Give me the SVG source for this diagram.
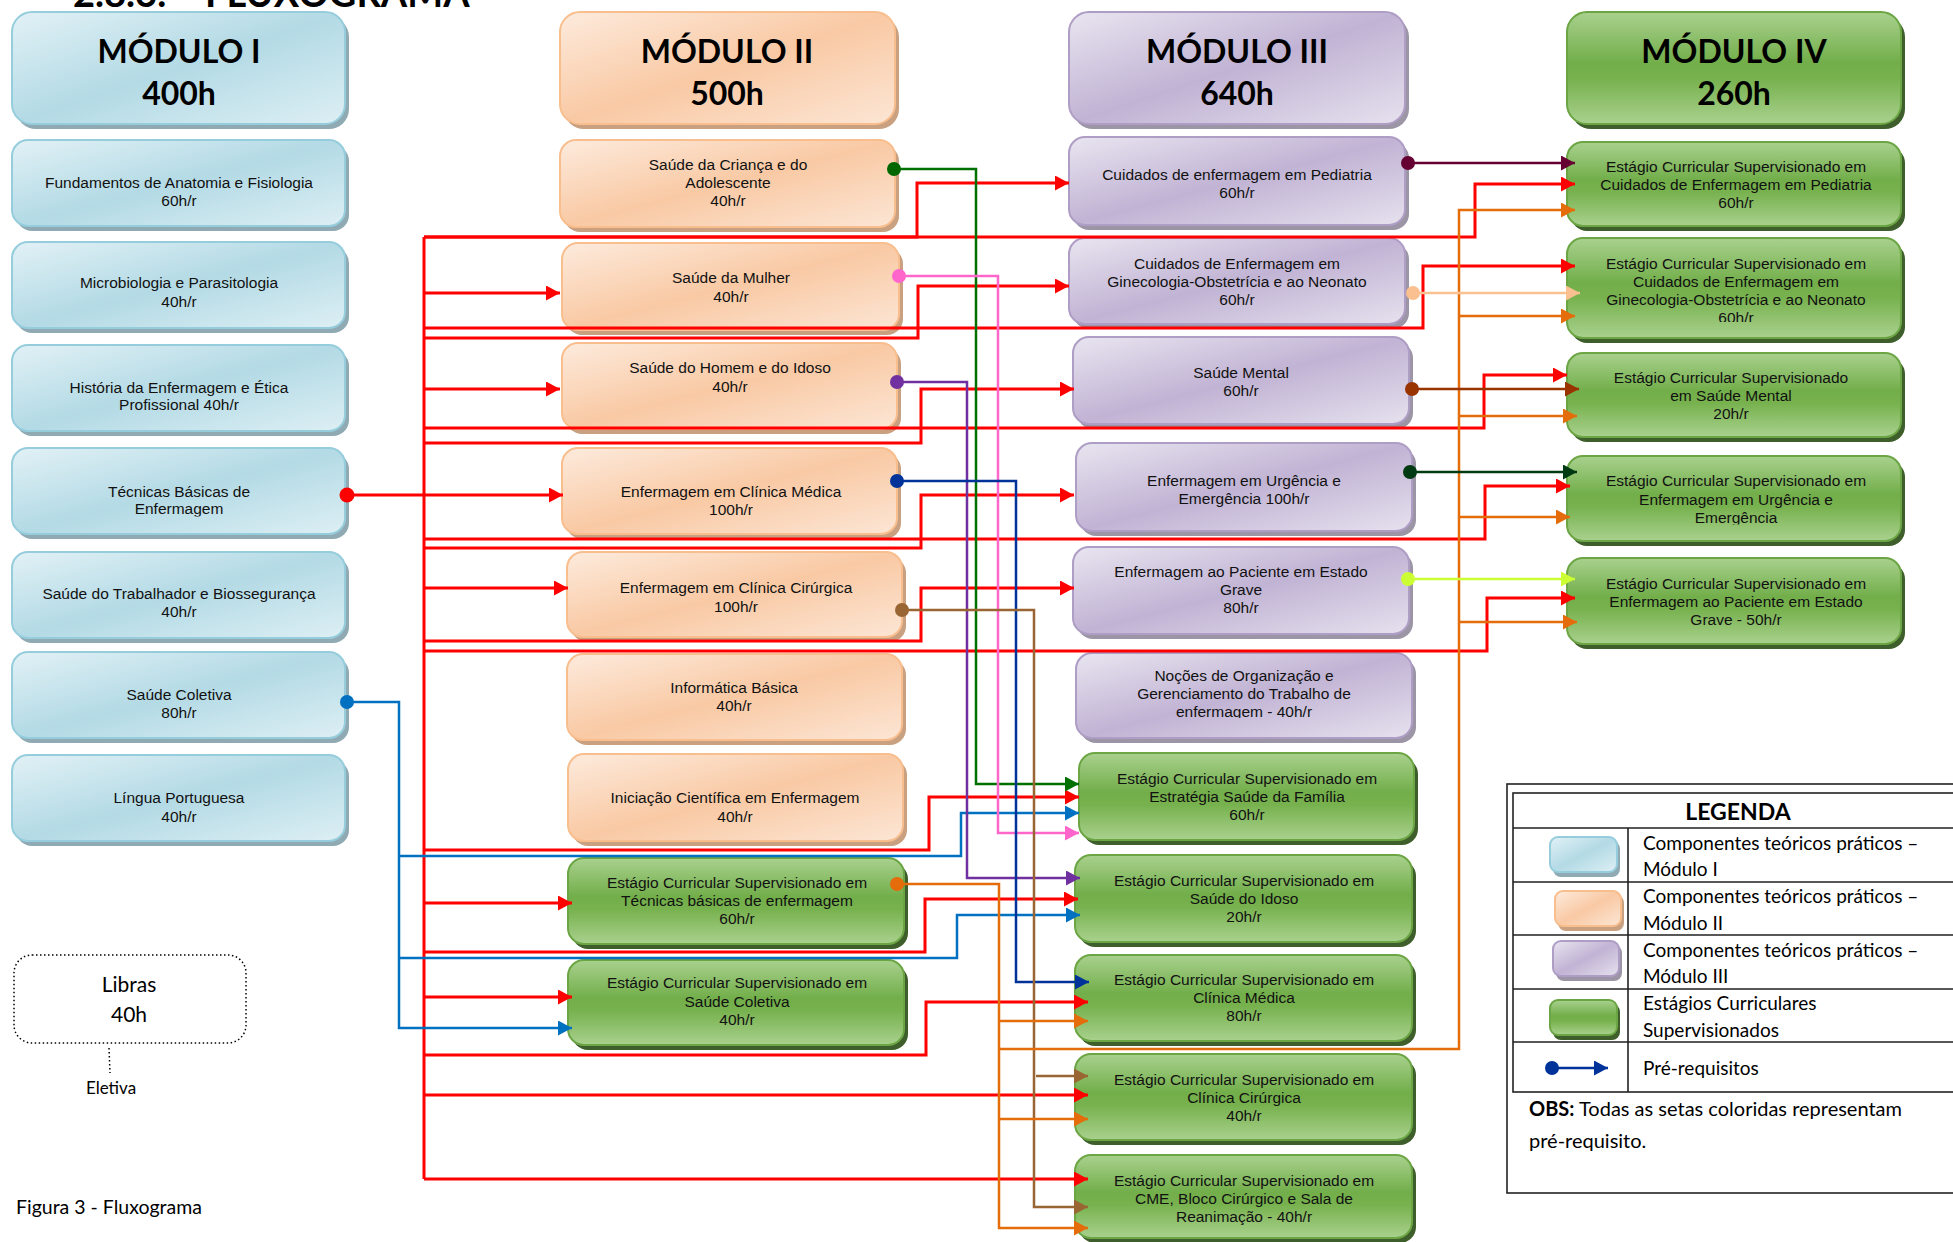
<svg xmlns="http://www.w3.org/2000/svg" width="1953" height="1242" viewBox="0 0 1953 1242">
<defs>
<style>
.s1{fill:#90AAB4}.b1{fill:url(#g1);stroke:#95CDDC;stroke-width:2}
.s2{fill:#C9A181}.b2{fill:url(#g2);stroke:#F8BE8E;stroke-width:2}
.s3{fill:#9C95A6}.b3{fill:url(#g3);stroke:#AE9DC4;stroke-width:2}
.s4{fill:#3E5F2B}.b4{fill:url(#g4);stroke:#6BA544;stroke-width:2}
.t{font-family:"Liberation Sans",Arial,sans-serif;font-size:15.5px;fill:#111;text-anchor:middle}
.h{font-family:Lato,"Open Sans",sans-serif;font-weight:bold;font-size:32px;fill:#000;text-anchor:middle}
.k{font-family:Lato,"Open Sans",sans-serif;fill:#000}
.c{fill:none;stroke-width:2.5}
.r{stroke:#FF0000;stroke-width:3;marker-end:url(#mr)}
.rl{fill:none;stroke:#FF0000;stroke-width:3}
.tb{fill:none;stroke:#222;stroke-width:1.6}
</style>
<linearGradient id="g1" x1="0" y1="0" x2="1" y2="1"><stop offset="0" stop-color="#E2F1F6"/><stop offset="0.5" stop-color="#B3DAE5"/><stop offset="1" stop-color="#DDEFF4"/></linearGradient>
<linearGradient id="g2" x1="0" y1="0" x2="1" y2="1"><stop offset="0" stop-color="#FDEBDD"/><stop offset="0.5" stop-color="#F9C9A4"/><stop offset="1" stop-color="#FCE6D5"/></linearGradient>
<linearGradient id="g3" x1="0" y1="0" x2="1" y2="1"><stop offset="0" stop-color="#E9E5F0"/><stop offset="0.5" stop-color="#C1B3D4"/><stop offset="1" stop-color="#E6E1EE"/></linearGradient>
<linearGradient id="g4" x1="0" y1="0" x2="0" y2="1"><stop offset="0" stop-color="#A9D18E"/><stop offset="0.45" stop-color="#72AE4A"/><stop offset="0.6" stop-color="#78B24F"/><stop offset="1" stop-color="#A9D18E"/></linearGradient>
<marker id="mr" viewBox="0 0 14 15" refX="14" refY="7.5" markerWidth="14" markerHeight="15" markerUnits="userSpaceOnUse" orient="auto"><path d="M0,0L14,7.5L0,15z" fill="#FF0000"/></marker>
<marker id="mb" viewBox="0 0 14 15" refX="14" refY="7.5" markerWidth="14" markerHeight="15" markerUnits="userSpaceOnUse" orient="auto"><path d="M0,0L14,7.5L0,15z" fill="#0070C0"/></marker>
<marker id="mg" viewBox="0 0 14 15" refX="14" refY="7.5" markerWidth="14" markerHeight="15" markerUnits="userSpaceOnUse" orient="auto"><path d="M0,0L14,7.5L0,15z" fill="#007000"/></marker>
<marker id="mp" viewBox="0 0 14 15" refX="14" refY="7.5" markerWidth="14" markerHeight="15" markerUnits="userSpaceOnUse" orient="auto"><path d="M0,0L14,7.5L0,15z" fill="#FF66CC"/></marker>
<marker id="mv" viewBox="0 0 14 15" refX="14" refY="7.5" markerWidth="14" markerHeight="15" markerUnits="userSpaceOnUse" orient="auto"><path d="M0,0L14,7.5L0,15z" fill="#7030A0"/></marker>
<marker id="md" viewBox="0 0 14 15" refX="14" refY="7.5" markerWidth="14" markerHeight="15" markerUnits="userSpaceOnUse" orient="auto"><path d="M0,0L14,7.5L0,15z" fill="#003399"/></marker>
<marker id="mn" viewBox="0 0 14 15" refX="14" refY="7.5" markerWidth="14" markerHeight="15" markerUnits="userSpaceOnUse" orient="auto"><path d="M0,0L14,7.5L0,15z" fill="#996633"/></marker>
<marker id="mo" viewBox="0 0 14 15" refX="14" refY="7.5" markerWidth="14" markerHeight="15" markerUnits="userSpaceOnUse" orient="auto"><path d="M0,0L14,7.5L0,15z" fill="#E46C0A"/></marker>
<marker id="mm" viewBox="0 0 14 15" refX="14" refY="7.5" markerWidth="14" markerHeight="15" markerUnits="userSpaceOnUse" orient="auto"><path d="M0,0L14,7.5L0,15z" fill="#660033"/></marker>
<marker id="mk" viewBox="0 0 14 15" refX="14" refY="7.5" markerWidth="14" markerHeight="15" markerUnits="userSpaceOnUse" orient="auto"><path d="M0,0L14,7.5L0,15z" fill="#FAC090"/></marker>
<marker id="mu" viewBox="0 0 14 15" refX="14" refY="7.5" markerWidth="14" markerHeight="15" markerUnits="userSpaceOnUse" orient="auto"><path d="M0,0L14,7.5L0,15z" fill="#993300"/></marker>
<marker id="mq" viewBox="0 0 14 15" refX="14" refY="7.5" markerWidth="14" markerHeight="15" markerUnits="userSpaceOnUse" orient="auto"><path d="M0,0L14,7.5L0,15z" fill="#003A12"/></marker>
<marker id="my" viewBox="0 0 14 15" refX="14" refY="7.5" markerWidth="14" markerHeight="15" markerUnits="userSpaceOnUse" orient="auto"><path d="M0,0L14,7.5L0,15z" fill="#CCFF33"/></marker>
<clipPath id="cTec"><rect x="0" y="440" width="400" height="76.5"/></clipPath>
<clipPath id="cNoc"><rect x="1070" y="650" width="350" height="68"/></clipPath>
<clipPath id="cGin4"><rect x="1560" y="235" width="350" height="87"/></clipPath>
<clipPath id="cUrg4"><rect x="1560" y="450" width="350" height="74.5"/></clipPath>
</defs>
<rect width="1953" height="1242" fill="#fff"/>
<text class="k" x="73" y="7" font-size="38" font-weight="bold">2.8.3.</text>
<text class="k" x="205" y="7" font-size="38" font-weight="bold">FLUXOGRAMA</text>

<!-- MODULE I -->
<g id="hdr1"><rect class="s1" x="16" y="17" width="333" height="112" rx="20"/><rect class="b1" x="12" y="12" width="333" height="112" rx="20"/><text class="h" x="179" y="63">MÓDULO I</text><text class="h" x="179" y="105">400h</text></g>
<g id="n-fund"><rect class="s1" x="16" y="145" width="333" height="86" rx="16"/><rect class="b1" x="12" y="140" width="333" height="86" rx="16"/><text class="t" x="179" y="188">Fundamentos de Anatomia e Fisiologia</text><text class="t" x="179" y="206">60h/r</text></g>
<g id="n-micro"><rect class="s1" x="16" y="247" width="333" height="86" rx="16"/><rect class="b1" x="12" y="242" width="333" height="86" rx="16"/><text class="t" x="179" y="288">Microbiologia e Parasitologia</text><text class="t" x="179" y="307">40h/r</text></g>
<g id="n-hist"><rect class="s1" x="16" y="350" width="333" height="86" rx="16"/><rect class="b1" x="12" y="345" width="333" height="86" rx="16"/><text class="t" x="179" y="393">História da Enfermagem e Ética</text><text class="t" x="179" y="410">Profissional 40h/r</text></g>
<g id="n-tec"><rect class="s1" x="16" y="453" width="333" height="86" rx="16"/><rect class="b1" x="12" y="448" width="333" height="86" rx="16"/><g clip-path="url(#cTec)"><text class="t" x="179" y="497">Técnicas Básicas de</text><text class="t" x="179" y="514">Enfermagem</text></g></g>
<g id="n-trab"><rect class="s1" x="16" y="557" width="333" height="86" rx="16"/><rect class="b1" x="12" y="552" width="333" height="86" rx="16"/><text class="t" x="179" y="599">Saúde do Trabalhador e Biossegurança</text><text class="t" x="179" y="617">40h/r</text></g>
<g id="n-col"><rect class="s1" x="16" y="657" width="333" height="86" rx="16"/><rect class="b1" x="12" y="652" width="333" height="86" rx="16"/><text class="t" x="179" y="700">Saúde Coletiva</text><text class="t" x="179" y="718">80h/r</text></g>
<g id="n-lp"><rect class="s1" x="16" y="760" width="333" height="86" rx="16"/><rect class="b1" x="12" y="755" width="333" height="86" rx="16"/><text class="t" x="179" y="803">Língua Portuguesa</text><text class="t" x="179" y="822">40h/r</text></g>

<!-- MODULE II -->
<g id="hdr2"><rect class="s2" x="564" y="17" width="335" height="112" rx="20"/><rect class="b2" x="560" y="12" width="335" height="112" rx="20"/><text class="h" x="727" y="63">MÓDULO II</text><text class="h" x="727" y="105">500h</text></g>
<g id="n-crianca"><rect class="s2" x="564" y="145" width="335" height="87" rx="16"/><rect class="b2" x="560" y="140" width="335" height="87" rx="16"/><text class="t" x="728" y="170">Saúde da Criança e do</text><text class="t" x="728" y="188">Adolescente</text><text class="t" x="728" y="206">40h/r</text></g>
<g id="n-mulher"><rect class="s2" x="566" y="248" width="337" height="87" rx="16"/><rect class="b2" x="562" y="243" width="337" height="87" rx="16"/><text class="t" x="731" y="283">Saúde da Mulher</text><text class="t" x="731" y="302">40h/r</text></g>
<g id="n-homem"><rect class="s2" x="566" y="348" width="335" height="86" rx="16"/><rect class="b2" x="562" y="343" width="335" height="86" rx="16"/><text class="t" x="730" y="373">Saúde do Homem e do Idoso</text><text class="t" x="730" y="392">40h/r</text></g>
<g id="n-cm"><rect class="s2" x="566" y="453" width="335" height="86" rx="16"/><rect class="b2" x="562" y="448" width="335" height="86" rx="16"/><text class="t" x="731" y="497">Enfermagem em Clínica Médica</text><text class="t" x="731" y="515">100h/r</text></g>
<g id="n-cc"><rect class="s2" x="571" y="557" width="335" height="85" rx="16"/><rect class="b2" x="567" y="552" width="335" height="85" rx="16"/><text class="t" x="736" y="593">Enfermagem em Clínica Cirúrgica</text><text class="t" x="736" y="612">100h/r</text></g>
<g id="n-info"><rect class="s2" x="571" y="659" width="335" height="86" rx="16"/><rect class="b2" x="567" y="654" width="335" height="86" rx="16"/><text class="t" x="734" y="693">Informática Básica</text><text class="t" x="734" y="711">40h/r</text></g>
<g id="n-ic"><rect class="s2" x="572" y="759" width="335" height="87" rx="16"/><rect class="b2" x="568" y="754" width="335" height="87" rx="16"/><text class="t" x="735" y="803">Iniciação Científica em Enfermagem</text><text class="t" x="735" y="822">40h/r</text></g>
<g id="n-est-tec"><rect class="s4" x="572" y="863" width="336" height="86" rx="16"/><rect class="b4" x="568" y="858" width="336" height="86" rx="16"/><text class="t" x="737" y="888">Estágio Curricular Supervisionado em</text><text class="t" x="737" y="906">Técnicas básicas de enfermagem</text><text class="t" x="737" y="924">60h/r</text></g>
<g id="n-est-col"><rect class="s4" x="572" y="965" width="336" height="85" rx="16"/><rect class="b4" x="568" y="960" width="336" height="85" rx="16"/><text class="t" x="737" y="988">Estágio Curricular Supervisionado em</text><text class="t" x="737" y="1007">Saúde Coletiva</text><text class="t" x="737" y="1025">40h/r</text></g>

<!-- MODULE III -->
<g id="hdr3"><rect class="s3" x="1073" y="17" width="336" height="112" rx="20"/><rect class="b3" x="1069" y="12" width="336" height="112" rx="20"/><text class="h" x="1237" y="63">MÓDULO III</text><text class="h" x="1237" y="105">640h</text></g>
<g id="n-ped"><rect class="s3" x="1073" y="142" width="336" height="88" rx="16"/><rect class="b3" x="1069" y="137" width="336" height="88" rx="16"/><text class="t" x="1237" y="180">Cuidados de enfermagem em Pediatria</text><text class="t" x="1237" y="198">60h/r</text></g>
<g id="n-gin"><rect class="s3" x="1073" y="243" width="336" height="86" rx="16"/><rect class="b3" x="1069" y="238" width="336" height="86" rx="16"/><text class="t" x="1237" y="269">Cuidados de Enfermagem em</text><text class="t" x="1237" y="287">Ginecologia-Obstetrícia e ao Neonato</text><text class="t" x="1237" y="305">60h/r</text></g>
<g id="n-ment"><rect class="s3" x="1077" y="342" width="336" height="87" rx="16"/><rect class="b3" x="1073" y="337" width="336" height="87" rx="16"/><text class="t" x="1241" y="378">Saúde Mental</text><text class="t" x="1241" y="396">60h/r</text></g>
<g id="n-urg"><rect class="s3" x="1080" y="448" width="336" height="88" rx="16"/><rect class="b3" x="1076" y="443" width="336" height="88" rx="16"/><text class="t" x="1244" y="486">Enfermagem em Urgência e</text><text class="t" x="1244" y="504">Emergência 100h/r</text></g>
<g id="n-grave"><rect class="s3" x="1077" y="552" width="336" height="87" rx="16"/><rect class="b3" x="1073" y="547" width="336" height="87" rx="16"/><text class="t" x="1241" y="577">Enfermagem ao Paciente em Estado</text><text class="t" x="1241" y="595">Grave</text><text class="t" x="1241" y="613">80h/r</text></g>
<g id="n-noc"><rect class="s3" x="1080" y="658" width="336" height="85" rx="16"/><rect class="b3" x="1076" y="653" width="336" height="85" rx="16"/><g clip-path="url(#cNoc)"><text class="t" x="1244" y="681">Noções de Organização e</text><text class="t" x="1244" y="699">Gerenciamento do Trabalho de</text><text class="t" x="1244" y="717">enfermagem - 40h/r</text></g></g>
<g id="n-esf"><rect class="s4" x="1083" y="758" width="335" height="87" rx="16"/><rect class="b4" x="1079" y="753" width="335" height="87" rx="16"/><text class="t" x="1247" y="784">Estágio Curricular Supervisionado em</text><text class="t" x="1247" y="802">Estratégia Saúde da Família</text><text class="t" x="1247" y="820">60h/r</text></g>
<g id="n-idoso"><rect class="s4" x="1079" y="860" width="337" height="87" rx="16"/><rect class="b4" x="1075" y="855" width="337" height="87" rx="16"/><text class="t" x="1244" y="886">Estágio Curricular Supervisionado em</text><text class="t" x="1244" y="904">Saúde do Idoso</text><text class="t" x="1244" y="922">20h/r</text></g>
<g id="n-cm-est"><rect class="s4" x="1079" y="960" width="337" height="86" rx="16"/><rect class="b4" x="1075" y="955" width="337" height="86" rx="16"/><text class="t" x="1244" y="985">Estágio Curricular Supervisionado em</text><text class="t" x="1244" y="1003">Clínica Médica</text><text class="t" x="1244" y="1021">80h/r</text></g>
<g id="n-cc-est"><rect class="s4" x="1079" y="1059" width="337" height="86" rx="16"/><rect class="b4" x="1075" y="1054" width="337" height="86" rx="16"/><text class="t" x="1244" y="1085">Estágio Curricular Supervisionado em</text><text class="t" x="1244" y="1103">Clínica Cirúrgica</text><text class="t" x="1244" y="1121">40h/r</text></g>
<g id="n-cme"><rect class="s4" x="1079" y="1160" width="337" height="83" rx="16"/><rect class="b4" x="1075" y="1155" width="337" height="83" rx="16"/><text class="t" x="1244" y="1186">Estágio Curricular Supervisionado em</text><text class="t" x="1244" y="1204">CME, Bloco Cirúrgico e Sala de</text><text class="t" x="1244" y="1222">Reanimação - 40h/r</text></g>

<!-- MODULE IV -->
<g id="hdr4"><rect class="s4" x="1571" y="17" width="334" height="112" rx="20"/><rect class="b4" x="1567" y="12" width="334" height="112" rx="20"/><text class="h" x="1734" y="63">MÓDULO IV</text><text class="h" x="1734" y="105">260h</text></g>
<g id="n-ped4"><rect class="s4" x="1571" y="147" width="334" height="84" rx="16"/><rect class="b4" x="1567" y="142" width="334" height="84" rx="16"/><text class="t" x="1736" y="172">Estágio Curricular Supervisionado em</text><text class="t" x="1736" y="190">Cuidados de Enfermagem em Pediatria</text><text class="t" x="1736" y="208">60h/r</text></g>
<g id="n-gin4"><rect class="s4" x="1571" y="243" width="334" height="100" rx="16"/><rect class="b4" x="1567" y="238" width="334" height="100" rx="16"/><g clip-path="url(#cGin4)"><text class="t" x="1736" y="269">Estágio Curricular Supervisionado em</text><text class="t" x="1736" y="287">Cuidados de Enfermagem em</text><text class="t" x="1736" y="305">Ginecologia-Obstetrícia e ao Neonato</text><text class="t" x="1736" y="323">60h/r</text></g></g>
<g id="n-ment4"><rect class="s4" x="1571" y="358" width="334" height="84" rx="16"/><rect class="b4" x="1567" y="353" width="334" height="84" rx="16"/><text class="t" x="1731" y="383">Estágio Curricular Supervisionado</text><text class="t" x="1731" y="401">em Saúde Mental</text><text class="t" x="1731" y="419">20h/r</text></g>
<g id="n-urg4"><rect class="s4" x="1571" y="461" width="334" height="85" rx="16"/><rect class="b4" x="1567" y="456" width="334" height="85" rx="16"/><g clip-path="url(#cUrg4)"><text class="t" x="1736" y="486">Estágio Curricular Supervisionado em</text><text class="t" x="1736" y="505">Enfermagem em Urgência e</text><text class="t" x="1736" y="523">Emergência</text></g></g>
<g id="n-grave4"><rect class="s4" x="1571" y="563" width="334" height="86" rx="16"/><rect class="b4" x="1567" y="558" width="334" height="86" rx="16"/><text class="t" x="1736" y="589">Estágio Curricular Supervisionado em</text><text class="t" x="1736" y="607">Enfermagem ao Paciente em Estado</text><text class="t" x="1736" y="625">Grave - 50h/r</text></g>

<!-- Libras -->
<g id="n-libras"><rect x="14" y="955" width="232" height="88" rx="18" fill="none" stroke="#000" stroke-width="1.5" stroke-dasharray="1.5 2.5"/><text class="k" x="129" y="992" font-size="21" text-anchor="middle">Libras</text><text class="k" x="129" y="1022" font-size="21" text-anchor="middle">40h</text><line x1="109" y1="1048" x2="110" y2="1073" stroke="#000" stroke-width="1.5" stroke-dasharray="1.5 2.5"/><text class="k" x="111" y="1094" font-size="17" text-anchor="middle">Eletiva</text></g>
<text class="k" x="16" y="1214" font-size="19.5">Figura 3 - Fluxograma</text>

<!-- CONNECTORS -->
<g id="connectors">
<path class="rl" d="M424,237V1179"/>
<path class="c r" d="M424,237H917V183H1069"/>
<path class="c r" d="M424,237H1475V184H1575"/>
<path class="c r" d="M424,293H560"/>
<path class="c r" d="M424,328H1423V266H1575"/>
<path class="c r" d="M424,338H918V286H1069"/>
<path class="c r" d="M424,389H560"/>
<path class="c r" d="M424,428H1484V375H1567"/>
<path class="c r" d="M424,443H921V389H1074"/>
<path class="c r" d="M347,495H563"/>
<path class="c r" d="M424,539H1485V486H1570"/>
<path class="c r" d="M424,548H921V495H1074"/>
<path class="c r" d="M424,588H568"/>
<path class="c r" d="M424,641H921V588H1074"/>
<path class="c r" d="M424,651H1487V598H1575"/>
<path class="c r" d="M424,850H929V797H1079"/>
<path class="c r" d="M424,903H572"/>
<path class="c r" d="M424,952H925V899H1078"/>
<path class="c r" d="M424,997H572"/>
<path class="c r" d="M424,1055H926V1002H1088"/>
<path class="c r" d="M424,1095H1088"/>
<path class="c r" d="M424,1179H1088"/>
<circle cx="347" cy="495" r="7.5" fill="#FF0000"/>

<path class="c" stroke="#0070C0" marker-end="url(#mb)" d="M347,702H399V1028H572"/>
<path class="c" stroke="#0070C0" marker-end="url(#mb)" d="M399,856H961V813H1079"/>
<path class="c" stroke="#0070C0" marker-end="url(#mb)" d="M399,958H957V915H1080"/>
<circle cx="347" cy="702" r="7" fill="#0070C0"/>

<path class="c" stroke="#007000" marker-end="url(#mg)" d="M894,169H976V784H1079"/>
<circle cx="894" cy="169" r="7" fill="#006600"/>
<path class="c" stroke="#FF66CC" marker-end="url(#mp)" d="M899,276H998V833H1079"/>
<circle cx="899" cy="276" r="7" fill="#FF66CC"/>
<path class="c" stroke="#7030A0" marker-end="url(#mv)" d="M897,382H967V878H1080"/>
<circle cx="897" cy="382" r="7" fill="#7030A0"/>
<path class="c" stroke="#003399" marker-end="url(#md)" d="M897,481H1016V982H1089"/>
<circle cx="897" cy="481" r="7" fill="#003399"/>
<path class="c" stroke="#996633" marker-end="url(#mn)" d="M902,610H1034V1207H1088"/>
<path class="c" stroke="#996633" marker-end="url(#mn)" d="M1036,1076H1088"/>
<circle cx="902" cy="610" r="7" fill="#996633"/>
<path class="c" stroke="#E46C0A" marker-end="url(#mo)" d="M897,884H999V1228H1088"/>
<path class="c" stroke="#E46C0A" marker-end="url(#mo)" d="M999,1021H1088"/>
<path class="c" stroke="#E46C0A" marker-end="url(#mo)" d="M999,1119H1088"/>
<path class="c" stroke="#E46C0A" marker-end="url(#mo)" d="M999,1049H1459V210H1575"/>
<path class="c" stroke="#E46C0A" marker-end="url(#mo)" d="M1459,316H1575"/>
<path class="c" stroke="#E46C0A" marker-end="url(#mo)" d="M1459,416H1577"/>
<path class="c" stroke="#E46C0A" marker-end="url(#mo)" d="M1459,517H1570"/>
<path class="c" stroke="#E46C0A" marker-end="url(#mo)" d="M1459,622H1577"/>
<circle cx="897" cy="884" r="7" fill="#E46C0A"/>
<path class="c" stroke="#660033" marker-end="url(#mm)" d="M1408,163H1575"/>
<circle cx="1408" cy="163" r="7" fill="#660033"/>
<path class="c" stroke="#FAC090" marker-end="url(#mk)" d="M1413,293H1580"/>
<circle cx="1413" cy="293" r="7" fill="#FAC090"/>
<path class="c" stroke="#993300" marker-end="url(#mu)" d="M1412,389H1579"/>
<circle cx="1412" cy="389" r="7" fill="#993300"/>
<path class="c" stroke="#003A12" stroke-width="3" marker-end="url(#mq)" d="M1410,472H1577"/>
<circle cx="1410" cy="472" r="7" fill="#003A12"/>
<path class="c" stroke="#CCFF33" marker-end="url(#my)" d="M1408,579H1575"/>
<circle cx="1408" cy="579" r="7" fill="#CCFF33"/>
</g>

<!-- LEGEND -->
<g id="legend">
<rect class="tb" x="1507" y="784" width="500" height="409"/>
<rect class="tb" x="1513" y="793" width="500" height="299"/>
<path class="tb" d="M1513,828H1960M1513,882H1960M1513,935H1960M1513,989H1960M1513,1042H1960M1628,828V1092"/>
<text class="k" x="1738" y="820" font-size="23" font-weight="bold" text-anchor="middle">LEGENDA</text>
<rect class="s1" x="1553" y="841" width="67" height="36" rx="8"/><rect class="b1" x="1550" y="837" width="67" height="35" rx="8"/>
<rect class="s2" x="1558" y="895" width="66" height="36" rx="8"/><rect class="b2" x="1555" y="891" width="66" height="35" rx="8"/>
<rect class="s3" x="1556" y="945" width="66" height="36" rx="8"/><rect class="b3" x="1553" y="941" width="66" height="35" rx="8"/>
<rect class="s4" x="1553" y="1004" width="67" height="36" rx="8"/><rect class="b4" x="1550" y="1000" width="67" height="35" rx="8"/>
<path d="M1552,1068H1608" stroke="#003399" stroke-width="2.5" marker-end="url(#md)"/>
<circle cx="1552" cy="1068" r="7" fill="#003399"/>
<text class="k" font-size="19"><tspan x="1643" y="850">Componentes teóricos práticos –</tspan><tspan x="1643" y="876">Módulo I</tspan></text>
<text class="k" font-size="19"><tspan x="1643" y="903">Componentes teóricos práticos –</tspan><tspan x="1643" y="930">Módulo II</tspan></text>
<text class="k" font-size="19"><tspan x="1643" y="957">Componentes teóricos práticos –</tspan><tspan x="1643" y="983">Módulo III</tspan></text>
<text class="k" font-size="19"><tspan x="1643" y="1010">Estágios Curriculares</tspan><tspan x="1643" y="1037">Supervisionados</tspan></text>
<text class="k" font-size="19" x="1643" y="1075">Pré-requisitos</text>
<text class="k" font-size="20" x="1529" y="1116"><tspan font-weight="bold">OBS:</tspan> Todas as setas coloridas representam</text>
<text class="k" font-size="20" x="1529" y="1148">pré-requisito.</text>
</g>
</svg>
